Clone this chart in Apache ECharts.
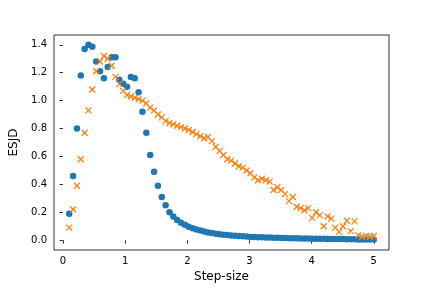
<!DOCTYPE html>
<html><head><meta charset="utf-8">
<script src="https://cdn.jsdelivr.net/npm/echarts@6/dist/echarts.min.js"></script>
<style>html,body{margin:0;padding:0;background:#fff}#c{width:432px;height:288px}</style>
</head><body><div id="c"></div>
<script>
const stepSizes = [0.1,0.162,0.224,0.286,0.348,0.410,0.472,0.534,0.596,0.658,0.720,0.782,0.844,0.906,0.968,1.030,1.092,1.154,1.216,1.278,1.341,1.403,1.465,1.527,1.589,1.651,1.713,1.775,1.837,1.899,1.961,2.023,2.085,2.147,2.209,2.271,2.333,2.395,2.457,2.519,2.581,2.643,2.705,2.767,2.829,2.891,2.953,3.015,3.077,3.139,3.201,3.263,3.325,3.387,3.449,3.511,3.573,3.635,3.697,3.759,3.822,3.884,3.946,4.008,4.070,4.132,4.194,4.256,4.318,4.380,4.442,4.504,4.566,4.628,4.690,4.752,4.814,4.876,4.938,5.0];
const esjdCircle = [0.19,0.46,0.80,1.18,1.37,1.40,1.385,1.28,1.21,1.16,1.24,1.31,1.31,1.15,1.12,1.10,1.17,1.16,1.06,0.92,0.77,0.61,0.49,0.39,0.31,0.25,0.20,0.17,0.145,0.125,0.11,0.097,0.086,0.077,0.069,0.062,0.056,0.051,0.047,0.043,0.040,0.037,0.034,0.032,0.030,0.028,0.026,0.024,0.023,0.022,0.021,0.020,0.019,0.018,0.017,0.016,0.016,0.015,0.014,0.014,0.013,0.012,0.012,0.011,0.011,0.010,0.010,0.009,0.009,0.008,0.008,0.008,0.007,0.007,0.007,0.006,0.006,0.006,0.005,0.005];
const esjdCross = [0.09,0.22,0.39,0.58,0.77,0.93,1.08,1.21,1.28,1.32,1.30,1.25,1.17,1.12,1.07,1.04,1.03,1.02,1.01,1.00,0.98,0.95,0.93,0.90,0.88,0.855,0.84,0.83,0.82,0.81,0.80,0.79,0.775,0.76,0.745,0.73,0.74,0.71,0.67,0.64,0.61,0.58,0.57,0.55,0.53,0.52,0.50,0.48,0.45,0.43,0.44,0.43,0.42,0.36,0.38,0.36,0.33,0.28,0.31,0.24,0.23,0.215,0.23,0.16,0.20,0.18,0.10,0.17,0.155,0.09,0.06,0.10,0.14,0.065,0.135,0.035,0.025,0.03,0.025,0.03];
const xTicks = [0,1,2,3,4,5];
const yTicks = [0,0.2,0.4,0.6,0.8,1.0,1.2,1.4];

const font = 'DejaVu Sans';
const chart = echarts.init(document.getElementById('c'), null, {renderer:'canvas'});
chart.setOption({
  animation:false,
  grid:{left:54,right:43,top:35,bottom:36,show:true,borderColor:'#000',borderWidth:0.8,backgroundColor:'transparent'},
  xAxis:{type:'value',min:-0.145,max:5.245,
    name:'Step-size',nameLocation:'middle',nameGap:21,
    nameTextStyle:{fontFamily:font,fontSize:12,color:'#000'},
    axisLine:{show:false},splitLine:{show:false},
    axisTick:{show:true,inside:false,length:3.5,customValues:xTicks,lineStyle:{color:'#000',width:0.8}},
    axisLabel:{customValues:xTicks,fontFamily:font,fontSize:10,color:'#000',margin:6,formatter:v=>String(v)}},
  yAxis:{type:'value',min:-0.07,max:1.47,
    name:'ESJD',nameLocation:'middle',nameGap:28,nameRotate:90,
    nameTextStyle:{fontFamily:font,fontSize:12,color:'#000'},
    axisLine:{show:false},splitLine:{show:false},
    axisTick:{show:true,inside:false,length:3.5,customValues:yTicks,lineStyle:{color:'#000',width:0.8}},
    axisLabel:{customValues:yTicks,fontFamily:font,fontSize:10,color:'#000',margin:7,formatter:v=>v.toFixed(1)}},
  series:[
    {type:'scatter',data:stepSizes.map((x,i)=>[x,esjdCircle[i]]),symbol:'circle',symbolSize:6.5,
      itemStyle:{color:'#1f77b4',opacity:1},z:2},
    {type:'scatter',data:stepSizes.map((x,i)=>[x,esjdCross[i]]),symbol:'path://M0,0L10,10M10,0L0,10',symbolSize:6,
      itemStyle:{color:'none',borderColor:'#ff7f0e',borderWidth:1.3,opacity:1},z:3}
  ]
});
</script></body></html>
